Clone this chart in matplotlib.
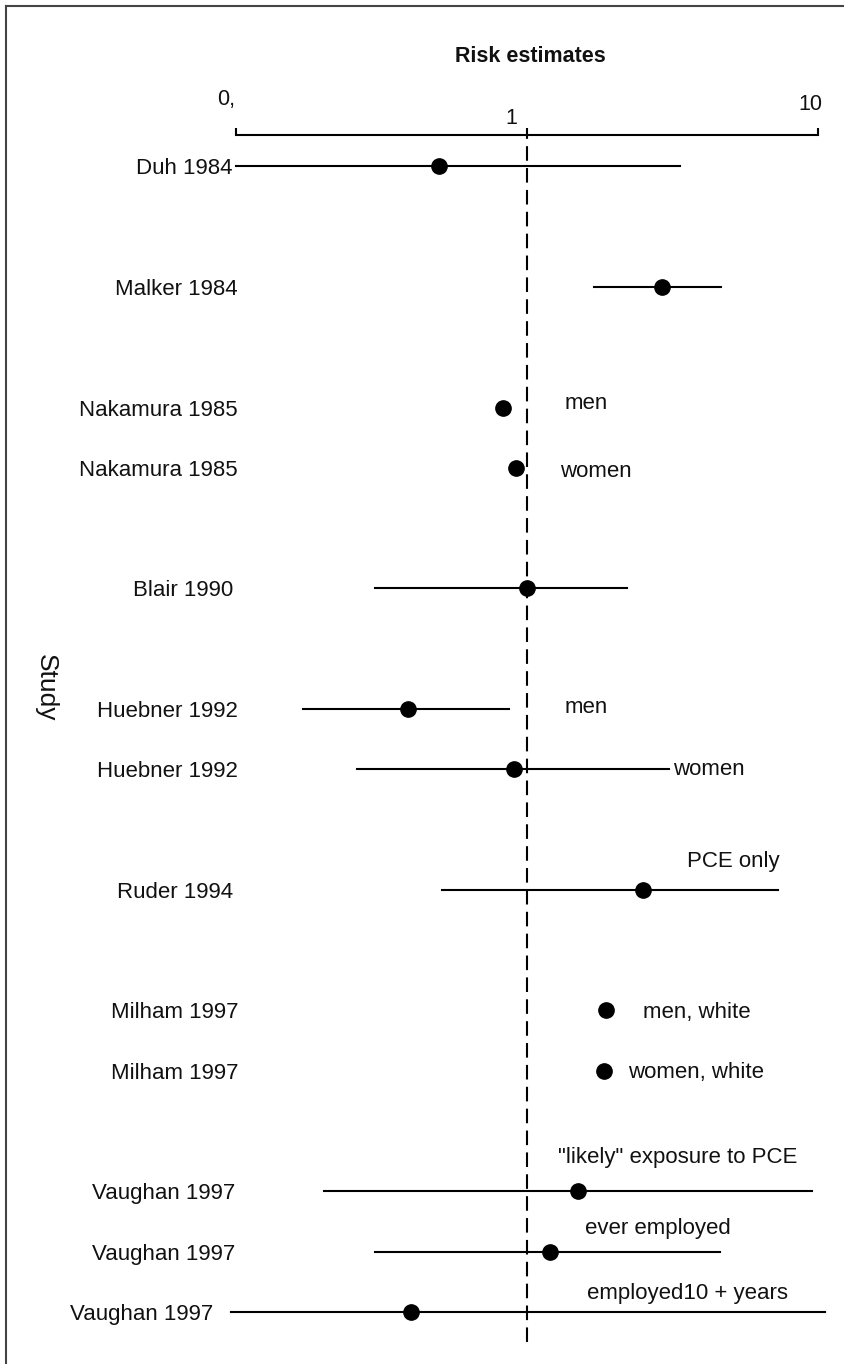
"""
Forest plot: risk estimates by study (log scale 0.1 - 10)
"""

import numpy as np
import matplotlib
matplotlib.use("Agg")
import matplotlib.pyplot as plt
import matplotlib.transforms as mtransforms
from matplotlib.lines import Line2D

plt.rcParams["font.family"] = ["Liberation Sans", "DejaVu Sans"]

# ---- data ----
studies = ["Duh 1984", "Malker 1984", "Nakamura 1985", "Nakamura 1985",
           "Blair 1990", "Huebner 1992", "Huebner 1992", "Ruder 1994",
           "Milham 1997", "Milham 1997", "Vaughan 1997", "Vaughan 1997",
           "Vaughan 1997"]
rows = [0, 2, 4, 5, 7, 9, 10, 12, 14, 15, 17, 18, 19]
estimate = [0.50, 2.91, 0.83, 0.92, 1.00, 0.39, 0.90, 2.50, 1.87, 1.84,
            1.50, 1.20, 0.40]
ci_low = [0.10, 1.70, np.nan, np.nan, 0.30, 0.17, 0.26, 0.51, np.nan, np.nan,
          0.20, 0.30, 0.096]
ci_high = [3.36, 4.64, np.nan, np.nan, 2.21, 0.87, 3.07, 7.29, np.nan, np.nan,
           9.54, 4.60, 10.6]
notes = ["", "", "men", "women", "", "men", "women", "PCE only",
         "men, white", "women, white", "\"likely\" exposure to PCE",
         "ever employed", "employed10 + years"]

tick_values = [0.1, 1, 10]
tick_labels = ["0,", "1", "10"]

# ---- layout (pixels of the 844x1364 output) ----
W, H = 844, 1364
DPI = 100
# note anchor (x in data units) and baseline shift in px (down = positive)
note_x = [None, None, 1.35, 1.30, None, 1.35, 3.17, 3.55, 2.50, 2.22,
          1.28, 1.58, 1.61]
note_dy = [0, 0, 1, 9.5, 0, 4, 6, -23, 8, 7.5, -28, -18, -13]
label_right = [232, 238, 238, 238, 233, 238, 238, 233, 238, 238, 235, 235, 213]
tick_right = [235, 517, 822]
tick_mid_y = [100, 119, 105]

fig = plt.figure(figsize=(W / DPI, H / DPI), dpi=DPI)
ax = fig.add_axes([236 / W, 1 - 1342 / H, (818 - 236) / W, (1342 - 135) / H])
ax.set_xscale("log")
ax.set_xlim(0.1, 10)
ax.set_ylim(19.5, -0.52)

for s in ["left", "right", "bottom"]:
    ax.spines[s].set_visible(False)
ax.spines["top"].set_linewidth(1.5)
ax.xaxis.set_ticks_position("top")
ax.set_xticks(tick_values)
ax.set_xticklabels([])
ax.xaxis.set_minor_locator(matplotlib.ticker.NullLocator())
ax.tick_params(axis="x", direction="out", length=5, width=1.5)
ax.set_yticks([])
ax.patch.set_visible(False)

# reference line at 1
ax.axvline(1, color="black", lw=1.5, linestyle=(0, (7, 3.5)), zorder=1)

px = 72 / DPI  # points per pixel
tr = mtransforms.blended_transform_factory(fig.transFigure, ax.transData)
for i, r in enumerate(rows):
    if not np.isnan(ci_low[i]):
        ax.plot([ci_low[i], ci_high[i]], [r, r], color="black", lw=1.5,
                clip_on=False, zorder=2)
    ax.plot(estimate[i], r, "o", color="black", ms=11, clip_on=False, zorder=3)

    # study label, right-aligned, vertically centred on the row
    ax.text(label_right[i] / W, r, studies[i], transform=tr, ha="right",
            va="center_baseline", fontsize=16, color="#111111")

    if notes[i]:
        off = mtransforms.offset_copy(ax.transData, fig=fig, x=0,
                                      y=-note_dy[i] * px, units="points")
        ax.text(note_x[i], r, notes[i], transform=off, ha="left",
                va="baseline", fontsize=16, color="#111111")

# axis tick labels placed above the scale line, right-aligned at the tick
for xr, ym, lab in zip(tick_right, tick_mid_y, tick_labels):
    fig.text(xr / W, 1 - ym / H, lab, ha="right", va="center",
             fontsize=15.5, color="#111111")

fig.text(530 / W, 1 - 57 / H, "Risk estimates", ha="center", va="center",
         fontsize=15.5, fontweight="bold", color="#111111")
fig.text(46 / W, 1 - 688 / H, "Study", rotation=270, ha="center",
         va="center", fontsize=19, color="#111111")

# frame (cropped on the right and at the bottom)
fig.add_artist(Line2D([6 / W, 6 / W], [0, 1 - 6 / H], transform=fig.transFigure,
                      color="#444444", lw=1.5))
fig.add_artist(Line2D([6 / W, 1], [1 - 6 / H, 1 - 6 / H],
                      transform=fig.transFigure, color="#444444", lw=1.5))

fig.savefig("out.png", dpi=DPI)
plt.close(fig)
